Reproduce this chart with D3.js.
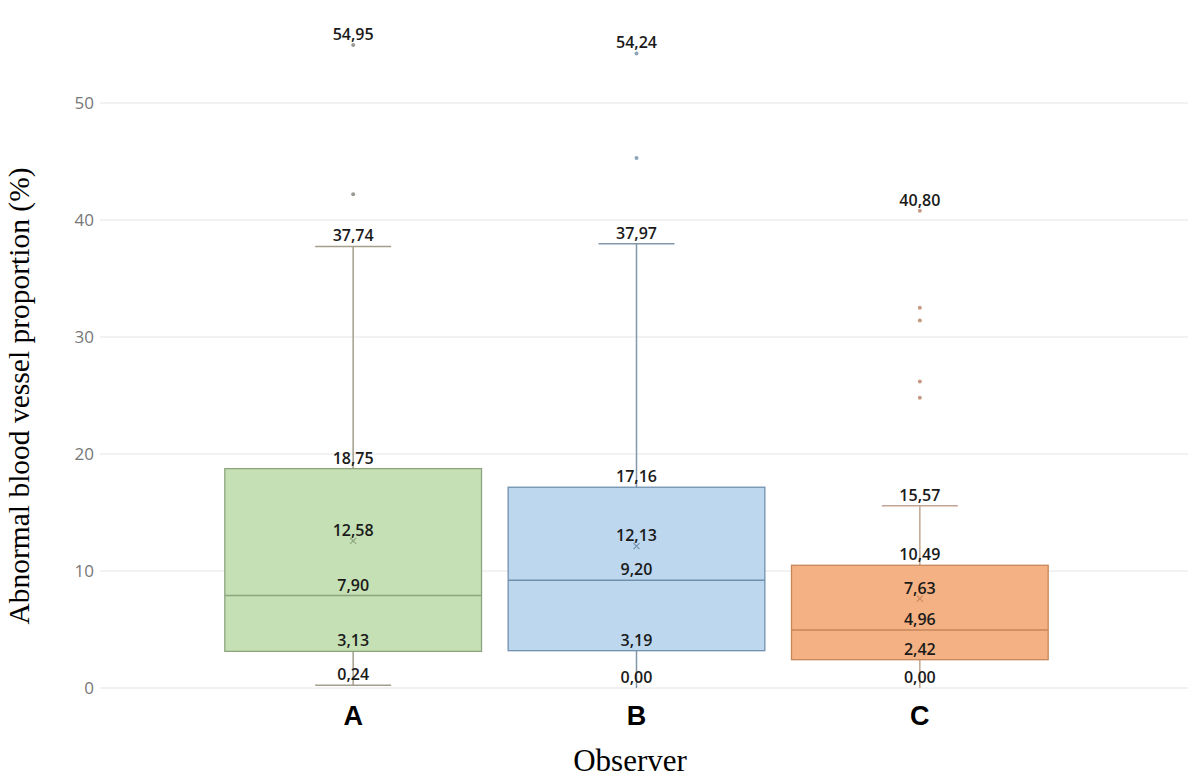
<!DOCTYPE html>
<html lang="en">
<head>
<meta charset="utf-8">
<title>Abnormal blood vessel proportion by observer</title>
<script src="https://cdn.jsdelivr.net/npm/d3@7"></script>
<style>
  body { margin: 0; background: #fff; }
  svg { display: block; }
</style>
</head>
<body>
<script>
// chart size
var w = 1193;
var h = 781;

// data
var observers = ["A", "B", "C"];
var lowWhisker = [0.24, 0.00, 0.00];
var q1 = [3.13, 3.19, 2.42];
var median = [7.90, 9.20, 4.96];
var mean = [12.58, 12.13, 7.63];
var q3 = [18.75, 17.16, 10.49];
var highWhisker = [37.74, 37.97, 15.57];
// outliers per observer (only the highest one is labelled)
var outliers = [
  [54.95, 42.2],
  [54.24, 45.3],
  [40.80, 32.5, 31.4, 26.2, 24.8]
];
var yTicks = [0, 10, 20, 30, 40, 50];

var fills = ["#c5e0b4", "#bdd7ee", "#f4b183"];
var strokes = ["#8da47f", "#7190ae", "#c7875a"];
var whiskerColors = ["#a39f8c", "#8397ab", "#c2a592"];
var dotColors = ["#9a9a94", "#8ea4b8", "#c49a82"];

function fmt(v) { return v.toFixed(2).replace(".", ","); }

var y = d3.scaleLinear().domain([0, 50]).range([688, 103]);
var x = d3.scaleBand().domain(observers).range([211.5, 1061.5])
          .paddingInner(0.094).paddingOuter(0.047);
var capW = 76;

var svg = d3.select("body").append("svg")
            .attr("width", w).attr("height", h);

// gridlines
svg.append("g").selectAll("line")
   .data(yTicks).enter().append("line")
   .attr("x1", 100).attr("x2", 1188)
   .attr("y1", function(d) { return y(d); })
   .attr("y2", function(d) { return y(d); })
   .style("stroke", "#e6e6e6").style("stroke-width", 1.2);

// y axis labels
var yAxis = svg.append("g")
   .attr("transform", "translate(94,0)")
   .call(d3.axisLeft(y).tickValues(yTicks).tickSize(0).tickPadding(0));
yAxis.select(".domain").remove();
yAxis.selectAll("text")
   .style("font-family", "'Open Sans', sans-serif")
   .style("font-size", "17px")
   .style("fill", "#777");

// x axis labels
var xAxis = svg.append("g")
   .attr("transform", "translate(0,706)")
   .call(d3.axisBottom(x).tickSize(0).tickPadding(0));
xAxis.select(".domain").remove();
xAxis.selectAll("text")
   .attr("dy", "0.71em")
   .style("font-family", "'Liberation Sans', Arial, sans-serif")
   .style("font-weight", "bold")
   .style("font-size", "27px")
   .style("fill", "#000");

// titles
svg.append("text")
   .attr("transform", "translate(29,396) rotate(-90)")
   .attr("text-anchor", "middle")
   .style("font-family", "'Liberation Serif', 'Times New Roman', serif")
   .style("font-size", "29.5px")
   .text("Abnormal blood vessel proportion (%)");

svg.append("text")
   .attr("x", 630).attr("y", 771)
   .attr("text-anchor", "middle")
   .style("font-family", "'Liberation Serif', 'Times New Roman', serif")
   .style("font-size", "31px")
   .text("Observer");

var groups = svg.selectAll("g.box")
   .data(observers).enter().append("g").attr("class", "box");

groups.each(function(name, i) {
  var g = d3.select(this);
  var cx = x(name) + x.bandwidth() / 2;

  // whiskers
  g.append("line")
   .attr("x1", cx).attr("x2", cx)
   .attr("y1", y(highWhisker[i])).attr("y2", y(lowWhisker[i]))
   .style("stroke", whiskerColors[i]).style("stroke-width", 1.5);
  g.append("line")
   .attr("x1", cx - capW / 2).attr("x2", cx + capW / 2)
   .attr("y1", y(highWhisker[i])).attr("y2", y(highWhisker[i]))
   .style("stroke", whiskerColors[i]).style("stroke-width", 1.5);
  if (lowWhisker[i] > 0) {
    g.append("line")
     .attr("x1", cx - capW / 2).attr("x2", cx + capW / 2)
     .attr("y1", y(lowWhisker[i])).attr("y2", y(lowWhisker[i]))
     .style("stroke", whiskerColors[i]).style("stroke-width", 1.5);
  }

  // box
  g.append("rect")
   .attr("x", x(name)).attr("width", x.bandwidth())
   .attr("y", y(q3[i])).attr("height", y(q1[i]) - y(q3[i]))
   .style("fill", fills[i]).style("stroke", strokes[i]).style("stroke-width", 1.3);

  // median
  g.append("line")
   .attr("x1", x(name)).attr("x2", x(name) + x.bandwidth())
   .attr("y1", y(median[i])).attr("y2", y(median[i]))
   .style("stroke", strokes[i]).style("stroke-width", 1.5);

  // mean marker
  var my = y(mean[i]);
  g.append("path")
   .attr("d", "M" + (cx - 3) + "," + (my - 3) + "L" + (cx + 3) + "," + (my + 3) +
              "M" + (cx - 3) + "," + (my + 3) + "L" + (cx + 3) + "," + (my - 3))
   .style("stroke", strokes[i]).style("stroke-width", 1.1);

  // outlier dots
  g.selectAll("circle")
   .data(outliers[i]).enter().append("circle")
   .attr("cx", cx).attr("cy", function(d) { return y(d); })
   .attr("r", 2)
   .style("fill", dotColors[i]);

  // value labels
  var labels = [lowWhisker[i], q1[i], median[i], mean[i], q3[i], highWhisker[i], outliers[i][0]];
  g.selectAll("text.val")
   .data(labels).enter().append("text")
   .attr("class", "val")
   .attr("x", cx)
   .attr("y", function(d) { return y(d) - 5; })
   .attr("text-anchor", "middle")
   .style("font-family", "'Open Sans', sans-serif")
   .style("font-size", "16px")
   .style("font-weight", "600")
   .style("fill", "#1a1a1a")
   .text(fmt);
});
</script>
</body>
</html>
